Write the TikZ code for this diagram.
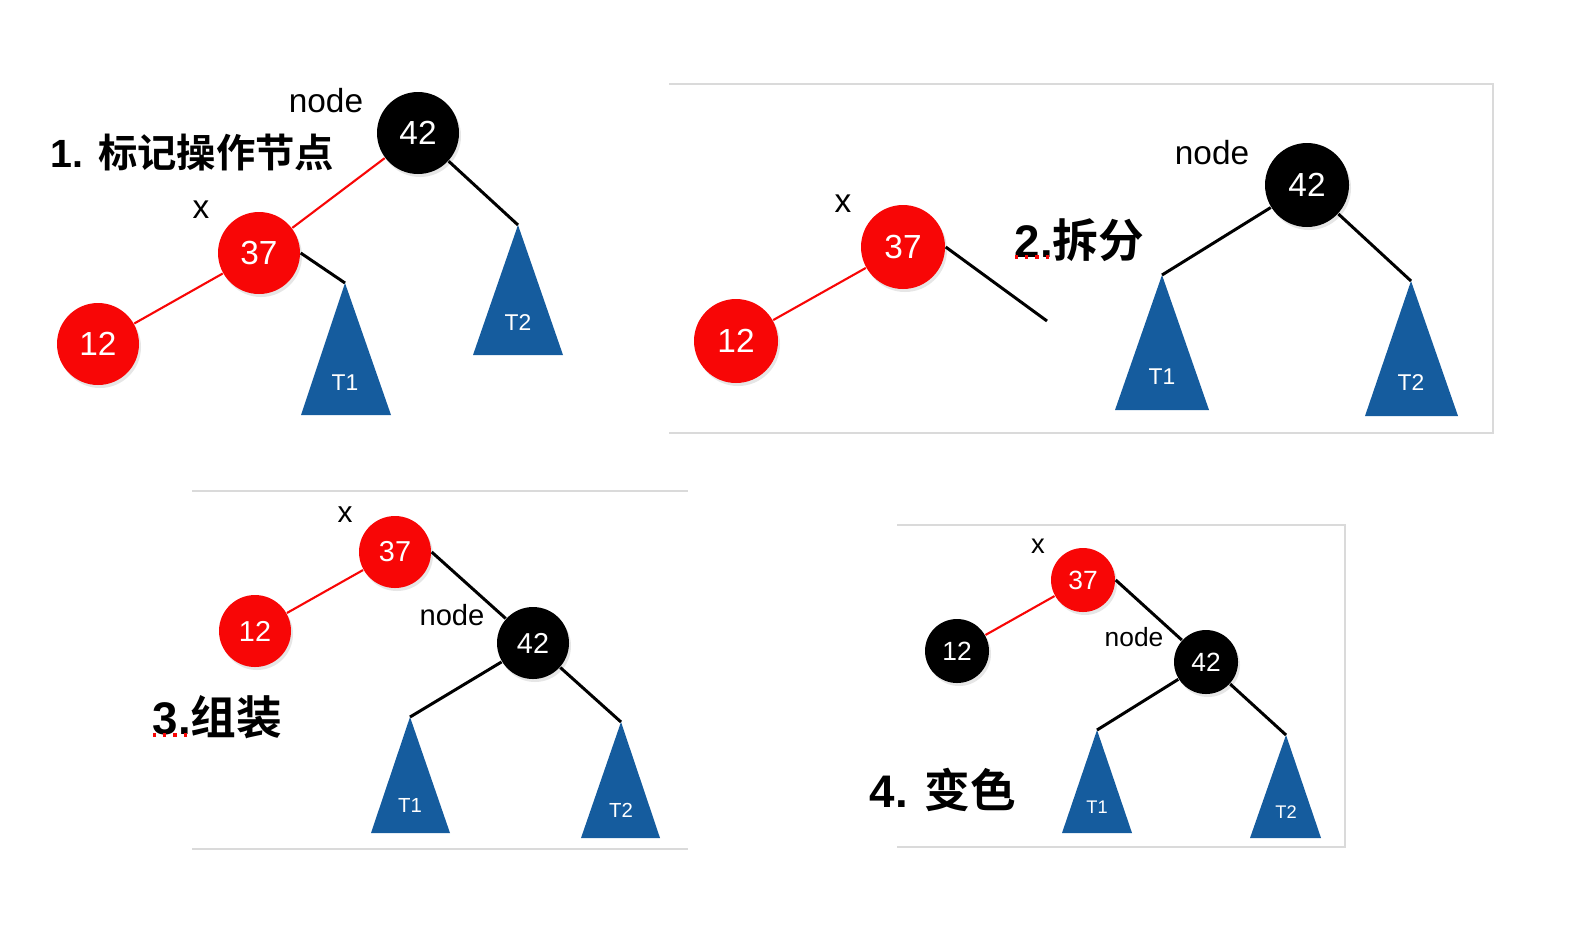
\documentclass[tikz,border=0pt]{standalone}
\usepackage{fontspec}
\setmainfont{Liberation Sans}
\newfontfamily\cjk{Noto Sans CJK SC}[BoldFont={Noto Sans CJK SC Bold}]
\usetikzlibrary{shadows}
\definecolor{rbred}{RGB}{248,6,6}
\definecolor{treeblue}{RGB}{21,92,158}
\definecolor{panelgray}{RGB}{218,218,218}
\newcommand{\sz}[1]{\fontsize{#1}{#1}\selectfont}

\begin{document}
\begin{tikzpicture}[x=0.1mm,y=-0.1mm,
    rnode/.style={circle,fill=rbred,text=white,inner sep=0pt,minimum size=#1,
      drop shadow={opacity=0.2,shadow xshift=0.2mm,shadow yshift=-0.3mm}},
    bnode/.style={circle,fill=black,text=white,inner sep=0pt,minimum size=#1,
      drop shadow={opacity=0.2,shadow xshift=0.2mm,shadow yshift=-0.3mm}},
    redge/.style={draw=rbred,line width=0.6pt},
    bedge/.style={draw=black,line width=0.85pt},
    panelline/.style={draw=panelgray,line width=0.6pt},
    subtree/.style={fill=treeblue},
    squiggle/.style={draw=rbred,dotted,line width=0.9pt}]
  \useasboundingbox (0,0) rectangle (1570,934);

  % panel 1
  \node[bnode=8.2mm,font=\sz{9.5}] (a42) at (418,133) {42};
  \node[rnode=8.2mm,font=\sz{9.5}] (a37) at (259,253) {37};
  \node[rnode=8.2mm,font=\sz{9.5}] (a12) at (98,344) {12};
  \fill[subtree] (345,283) -- (391,415) -- (301,415) -- cycle;      % T1
  \fill[subtree] (518,225) -- (563,355) -- (473,355) -- cycle;      % T2
  \coordinate (a1top) at (345,283);
  \coordinate (a2top) at (518,225);
  \node[text=white,font=\sz{6.5}] (a1) at (345,383) {T1};
  \node[text=white,font=\sz{6.5}] (a2) at (518,323) {T2};
  \node[font=\sz{9.5}] (anode) at (326,101) {node};
  \node[font=\sz{9.5}] (ax) at (201,210) {x};
  \node[font=\sz{11.2}\bfseries,anchor=west,inner sep=0pt] (atitle) at (50,153) {1. {\cjk 标记操作节点}};
  \draw[redge] (a12) -- (a37);
  \draw[redge] (a37) -- (a42);
  \draw[bedge] (a37.east) -- (a1top);
  \draw[bedge] (a42) -- (a2top);

  % panel 2
  \draw[panelline] (669,84) -- (1493,84) -- (1493,433) -- (669,433);
  \node[rnode=8.4mm,font=\sz{9.5}] (b37) at (903,247) {37};
  \node[rnode=8.4mm,font=\sz{9.5}] (b12) at (736,341) {12};
  \node[bnode=8.4mm,font=\sz{9.5}] (b42) at (1307,185) {42};
  \coordinate (bcut) at (1047,321);
  \fill[subtree] (1162,275) -- (1209,410) -- (1115,410) -- cycle;   % T1
  \fill[subtree] (1411,281) -- (1458,416) -- (1365,416) -- cycle;   % T2
  \coordinate (b1top) at (1162,275);
  \coordinate (b2top) at (1411,281);
  \node[text=white,font=\sz{6.5}] (b1) at (1162,377) {T1};
  \node[text=white,font=\sz{6.5}] (b2) at (1411,383) {T2};
  \node[font=\sz{9.5}] (bnode) at (1212,153) {node};
  \node[font=\sz{9.5}] (bx) at (843,204) {x};
  \node[font=\sz{13}\bfseries,anchor=west,inner sep=0pt] (btitle) at (1014,240) {2.{\cjk 拆分}};
  \draw[squiggle] (1015,257) -- (1051,257);
  \draw[redge] (b12) -- (b37);
  \draw[bedge] (b37.east) -- (bcut);
  \draw[bedge] (b42) -- (b1top);
  \draw[bedge] (b42) -- (b2top);

  % panel 3
  \draw[panelline] (192,491) -- (688,491);
  \draw[panelline] (192,849) -- (688,849);
  \node[rnode=7.2mm,font=\sz{8.2}] (c37) at (395,552) {37};
  \node[rnode=7.2mm,font=\sz{8.2}] (c12) at (255,631) {12};
  \node[bnode=7.2mm,font=\sz{8.2}] (c42) at (533,643) {42};
  \fill[subtree] (410,717) -- (450,833) -- (371,833) -- cycle;      % T1
  \fill[subtree] (621,722) -- (660,838) -- (581,838) -- cycle;      % T2
  \coordinate (c1top) at (410,717);
  \coordinate (c2top) at (621,722);
  \node[text=white,font=\sz{5.8}] (c1) at (410,805) {T1};
  \node[text=white,font=\sz{5.8}] (c2) at (621,810) {T2};
  \node[font=\sz{8.3}] (cnode) at (452,615) {node};
  \node[font=\sz{8.5}] (cx) at (345,515) {x};
  \node[font=\sz{13}\bfseries,anchor=west,inner sep=0pt] (ctitle) at (152,717) {3.{\cjk 组装}};
  \draw[squiggle] (153,735) -- (189,735);
  \draw[redge] (c12) -- (c37);
  \draw[bedge] (c37.east) -- (c42);
  \draw[bedge] (c42) -- (c1top);
  \draw[bedge] (c42) -- (c2top);

  % panel 4
  \draw[panelline] (897,525) -- (1345,525) -- (1345,847) -- (897,847);
  \node[rnode=6.4mm,font=\sz{7.5}] (d37) at (1083,580) {37};
  \node[bnode=6.4mm,font=\sz{7.5}] (d12) at (957,651) {12};
  \node[bnode=6.4mm,font=\sz{7.5}] (d42) at (1206,662) {42};
  \fill[subtree] (1097,730) -- (1132,833) -- (1062,833) -- cycle;   % T1
  \fill[subtree] (1286,735) -- (1321,838) -- (1250,838) -- cycle;   % T2
  \coordinate (d1top) at (1097,730);
  \coordinate (d2top) at (1286,735);
  \node[text=white,font=\sz{5.2}] (d1) at (1097,807) {T1};
  \node[text=white,font=\sz{5.2}] (d2) at (1286,812) {T2};
  \node[font=\sz{7.5}] (dnode) at (1134,637) {node};
  \node[font=\sz{7.8}] (dx) at (1038,546) {x};
  \node[font=\sz{13}\bfseries,anchor=west,inner sep=0pt] (dtitle) at (869,790) {4. {\cjk 变色}};
  \draw[redge] (d12) -- (d37);
  \draw[bedge] (d37.east) -- (d42);
  \draw[bedge] (d42) -- (d1top);
  \draw[bedge] (d42) -- (d2top);
\end{tikzpicture}
\end{document}
